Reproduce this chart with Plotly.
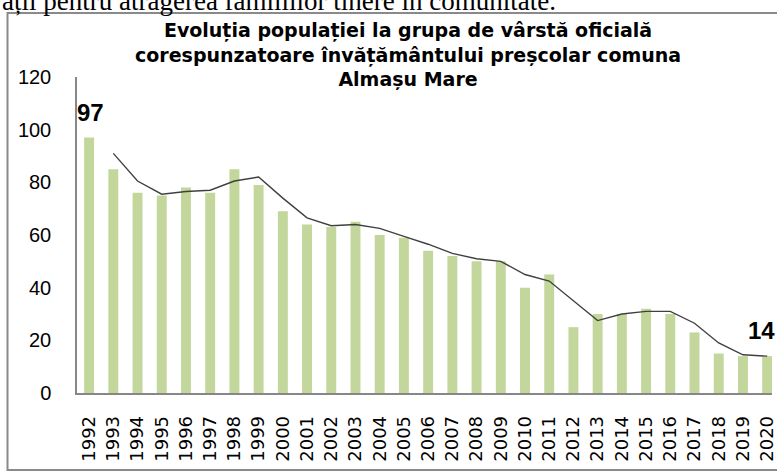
import plotly.graph_objects as go
import pandas as pd

# ---- data ----
years = ["1992", "1993", "1994", "1995", "1996", "1997", "1998", "1999", "2000",
         "2001", "2002", "2003", "2004", "2005", "2006", "2007", "2008", "2009",
         "2010", "2011", "2012", "2013", "2014", "2015", "2016", "2017", "2018",
         "2019", "2020"]
population = [97, 85, 76, 75, 78, 76, 85, 79, 69,
              64, 63, 65, 60, 59, 54, 52, 50, 50,
              40, 45, 25, 30, 30, 32, 30, 23, 15,
              14, 14]
labelled_years = ["1992", "2020"]
title_lines = ["Evoluția populației la grupa de vârstă oficială",
               "corespunzatoare învățământului preșcolar comuna",
               "Almașu Mare"]
page_text = "ații pentru atragerea familiilor tinere în comunitate."

# 2-period moving average trendline (as in the original spreadsheet chart)
trend = pd.Series(population).rolling(2).mean().tolist()

W, H = 777, 471
ML, MR, MT, MB = 77, 0, 77, 78
PW, PH = W - ML - MR, H - MT - MB


def px_x(p):
    return (p - ML) / PW


def px_y(p):
    return (H - MB - p) / PH


fig = go.Figure()
fig.add_trace(go.Bar(x=years, y=population, marker=dict(color="#C3D69B", line=dict(width=0)),
                     showlegend=False, hoverinfo="x+y"))
fig.add_trace(go.Scatter(x=years, y=trend, mode="lines",
                         line=dict(color="#404040", width=1.4), showlegend=False,
                         connectgaps=False))

annotations = []
for yr in labelled_years:
    i = years.index(yr)
    annotations.append(dict(x=i, y=population[i], xref="x", yref="y", text=str(population[i]),
                            showarrow=False, yanchor="bottom", yshift=10,
                            xshift=(-6 if i == len(years) - 1 else 1),
                            font=dict(family="Liberation Sans, Arial", size=24, color="black",
                                      weight="bold")))

annotations.append(dict(x=px_x(410), y=px_y(17), xref="paper", yref="paper",
                        text="<br>".join(title_lines), showarrow=False,
                        xanchor="center", yanchor="top", align="center",
                        font=dict(family="DejaVu Sans", size=19, color="black", weight="bold")))

annotations.append(dict(x=px_x(-1), y=px_y(18.5), xref="paper", yref="paper",
                        text=page_text, showarrow=False, xanchor="left", yanchor="bottom",
                        font=dict(family="Liberation Serif, Times New Roman", size=27,
                                  color="black")))

fig.update_layout(
    width=W, height=H,
    margin=dict(l=ML, r=MR, t=MT, b=MB, pad=0),
    paper_bgcolor="white", plot_bgcolor="white",
    bargap=0.59,
    annotations=annotations,
    shapes=[dict(type="rect", xref="paper", yref="paper",
                 x0=px_x(7), x1=px_x(820), y0=px_y(470), y1=px_y(13),
                 line=dict(color="#8a8a8a", width=2), fillcolor="rgba(0,0,0,0)",
                 layer="below")],
    xaxis=dict(type="category", range=[-0.5, 28.2], showline=True, linecolor="#878787",
               linewidth=1.5, showgrid=False, zeroline=False, ticks="",
               tickangle=-90, ticklabelstandoff=14,
               tickfont=dict(family="DejaVu Sans", size=18, color="black")),
    yaxis=dict(range=[0, 120], dtick=20, showline=True, linecolor="#878787",
               linewidth=1.5, showgrid=False, zeroline=False, ticks="",
               ticklabelstandoff=20,
               tickfont=dict(family="Liberation Sans, Arial", size=20, color="black")),
)

fig.write_html("out.html", config={"displayModeBar": False},
               post_script="document.body.style.margin='0px';document.body.style.overflow='hidden';")
